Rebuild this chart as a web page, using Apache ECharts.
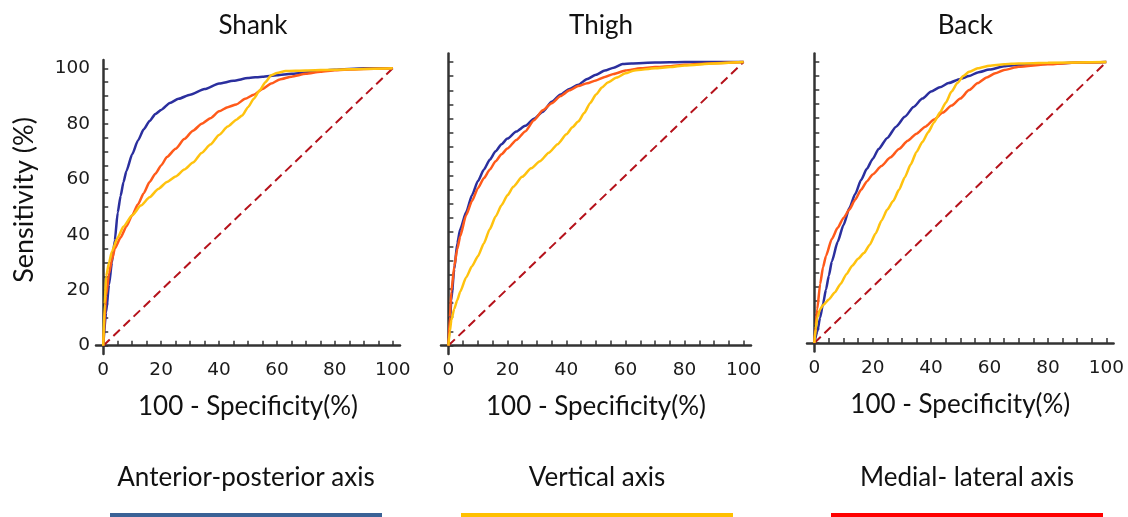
<!DOCTYPE html>
<html>
<head>
<meta charset="utf-8">
<script src="https://cdn.jsdelivr.net/npm/echarts@6/dist/echarts.min.js"></script>
<style>html,body{margin:0;padding:0;background:#fff;}#c{width:1128px;height:517px;}</style>
</head>
<body>
<div id="c"></div>
<script>
// ---- data ----
const panelTitles = ['Shank', 'Thigh', 'Back'];
const seriesNames = ['Anterior-posterior axis', 'Vertical axis', 'Medial- lateral axis'];
const xTickValues = [0,5,10,15,20,25,30,35,40,45,50,55,60,65,70,75,80,85,90,95,100];
const xLabelValues = [0,20,40,60,80,100];
const yLabelValues = [0,20,40,60,80,100];

const shankAP = [[0,0],[1,12],[2,22],[3,30],[4,38],[5,48],[6,54],[7,59],[8,63],[10,69],[12,74],[14,78],[16,81],[18,83.5],[20,85],[23,87.5],[26,89],[30,90.5],[35,92.5],[40,94.5],[45,95.5],[50,96.5],[55,97],[60,97.5],[65,98],[70,98.5],[80,99.5],[90,100],[100,100]];
const shankV = [[0,0],[0.5,15],[1,25],[2,30],[3,34],[5,39],[7,43],[10,47],[13,50.5],[16,53.5],[19,56.5],[22,59],[25,61],[28,63.5],[31,66],[34,69.5],[37,72.5],[40,76],[43,79],[46,81.5],[48,83],[50,86],[52,89],[54,92],[56,95],[58,97.5],[60,98.3],[63,99],[70,99.2],[80,99.5],[90,99.8],[100,100]];
const shankML = [[0,0],[1,18],[2,26],[3,31],[4,35],[6,39],[8,43],[10,47],[12,51],[14,55],[16,59],[18,62],[20,65],[22,68],[25,71],[28,74.5],[31,77.5],[34,80],[37,82],[40,84.5],[43,86],[46,87],[49,89],[52,90.5],[55,92.5],[58,94.5],[61,96],[65,97],[70,98],[75,98.8],[80,99.3],[90,99.8],[100,100]];

const thighAP = [[0,0],[0.5,8],[1,16],[2,27],[3,36],[4,41],[6,47],[8,53],[10,58],[12,62],[14,65.5],[16,68.5],[18,71],[20,73],[23,75.5],[26,77.5],[29,80],[32,82.5],[35,86],[38,88.5],[41,90.5],[44,92],[47,94],[50,95.5],[53,97],[56,98],[59,99.3],[62,99.5],[70,99.8],[80,100],[100,100]];
const thighV = [[0,0],[0.5,5],[1,9],[2,13],[3,16],[4,19],[6,24],[8,28],[10,31.5],[12,36],[14,41],[16,45.5],[18,49.5],[20,53],[22,56],[25,59.5],[28,62.5],[31,65],[34,68],[37,71],[40,74.5],[42,77],[44,79],[46,82],[48,85.5],[50,88.5],[52,91],[54,92.8],[57,94.5],[60,96],[63,97],[70,97.8],[75,98.2],[80,98.8],[90,99.5],[100,100]];
const thighML = [[0,0],[0.5,10],[1,19],[2,28],[3,34],[4,38.5],[6,46],[8,51],[10,55.5],[12,59],[14,62],[16,65],[18,67.5],[20,69.5],[23,72.5],[26,75.5],[29,79.5],[32,83],[35,85.5],[38,88],[41,90],[44,91.5],[47,92.5],[50,93.5],[53,94.7],[56,95.8],[60,97],[65,97.8],[70,98.2],[75,98.5],[80,99],[90,99.6],[100,100]];

const backAP = [[0,0],[1,4],[2,9],[3,14],[4,19],[5,24],[6,29],[8,36],[10,42],[12,48],[14,53],[16,58],[18,62],[20,65.5],[22,69],[25,73],[28,77],[31,80.5],[34,84],[37,87],[40,89.5],[43,91],[46,92.5],[50,94],[53,95],[56,96.3],[60,97.3],[65,98.5],[70,99],[80,99.4],[90,99.8],[100,100]];
const backV = [[0,0],[0.5,5],[1,9],[2,12],[3,13.5],[5,15.5],[7,18],[9,21],[11,24.5],[13,27.5],[15,30],[17,32],[19,35],[21,39],[23,43.5],[25,47.5],[27,50.5],[29,54.5],[31,59],[33,63.5],[35,68],[37,71.5],[39,75],[41,78.5],[43,82],[45,85.5],[47,89.5],[49,92.5],[51,95],[53,96.5],[56,97.8],[60,98.7],[65,99.2],[70,99.5],[80,99.7],[100,100]];
const backML = [[0,0],[0.5,6],[1,12],[2,21],[3,27],[4,31],[6,37],[8,41],[10,44.5],[12,47.5],[14,51],[16,54.5],[18,57.5],[20,60],[23,63],[26,66],[29,69],[32,72],[35,74.5],[38,77],[41,79.5],[44,82],[47,84.5],[50,87],[53,90],[56,92.5],[59,94.5],[62,96],[65,97.2],[70,98.3],[80,99.2],[90,99.8],[100,100]];

const diagonal = [[0,0],[100,100]];

const panelData = [
  [shankAP, shankV, shankML],
  [thighAP, thighV, thighML],
  [backAP, backV, backML]
];

// ---- styling ----
const curveColors = ['#2B2F9E', '#FFC20E', '#FF5A1A'];
const legendColors = ['#3A6296', '#FFC000', '#FF0000'];
const diagColor = '#B5121B';
const grids = [
  {left: 96, top: 60, width: 304, height: 294},
  {left: 441, top: 53.5, width: 310, height: 300.6},
  {left: 807, top: 53.6, width: 306.6, height: 297.8}
];

const axisLineStyle = {color: '#333', width: 2.5};
const tickFont = {fontFamily: 'DejaVu Sans', fontSize: 18.5, color: '#1a1a1a'};
const textFont = 'Lato';

const option = {
  animation: false,
  backgroundColor: '#fff',
  title: panelTitles.map((t, i) => ({
    text: t,
    left: grids[i].left + grids[i].width / 2,
    top: 8,
    textAlign: 'center',
    textStyle: {fontFamily: textFont, fontSize: 26, fontWeight: 'normal', color: '#111'}
  })),
  grid: grids.map(g => Object.assign({containLabel: false}, g)),
  xAxis: grids.map((g, i) => ({
    type: 'value', gridIndex: i, min: -2.5, max: 102.5,
    name: '100 - Specificity(%)', nameLocation: 'middle', nameGap: 40,
    nameTextStyle: {fontFamily: textFont, fontSize: 26, color: '#111'},
    axisLine: {show: true, lineStyle: axisLineStyle},
    axisTick: {show: true, inside: true, length: 5, lineStyle: {color: '#333', width: 1.5}, customValues: xTickValues},
    axisLabel: Object.assign({customValues: xLabelValues, margin: 7}, tickFont),
    splitLine: {show: false}
  })),
  yAxis: grids.map((g, i) => ({
    type: 'value', gridIndex: i, min: -3, max: 103,
    name: i === 0 ? 'Sensitivity (%)' : '', nameLocation: 'middle', nameGap: 58,
    nameTextStyle: {fontFamily: textFont, fontSize: 27, color: '#111', padding: [0, 0, 0, 14]},
    axisLine: {show: true, lineStyle: axisLineStyle},
    axisTick: {show: true, inside: true, length: 5, lineStyle: {color: '#333', width: 1.5}, customValues: xTickValues},
    axisLabel: Object.assign({show: i === 0, customValues: yLabelValues, margin: 6}, tickFont),
    splitLine: {show: false}
  })),
  series: [],
  graphic: []
};

panelData.forEach((curves, p) => {
  option.series.push({
    type: 'line', name: 'Reference', xAxisIndex: p, yAxisIndex: p, data: diagonal,
    showSymbol: false, symbol: 'none', lineStyle: {color: diagColor, width: 2, type: [9, 5]}, z: 1
  });
  [0, 2, 1].forEach(k => {
    option.series.push({
      type: 'line', name: seriesNames[k], xAxisIndex: p, yAxisIndex: p, data: curves[k],
      showSymbol: false, symbol: 'none', smooth: 0.2, smoothMonotone: 'x',
      lineStyle: {color: curveColors[k], width: 2.5}, z: 2 + (k === 1 ? 1 : 0)
    });
  });
});

// legend (text over a coloured bar) placed under each panel
const legendCenters = [246, 597, 967];
seriesNames.forEach((n, i) => {
  option.graphic.push({
    type: 'text', x: legendCenters[i], y: 478,
    style: {text: n, fontFamily: textFont, fontSize: 26, fill: '#111', align: 'center', verticalAlign: 'middle'}
  });
  option.graphic.push({
    type: 'rect', shape: {x: legendCenters[i] - 136, y: 513, width: 272, height: 5},
    style: {fill: legendColors[i]}
  });
});

const chart = echarts.init(document.getElementById('c'), null, {renderer: 'canvas'});
chart.setOption(option);
</script>
</body>
</html>
